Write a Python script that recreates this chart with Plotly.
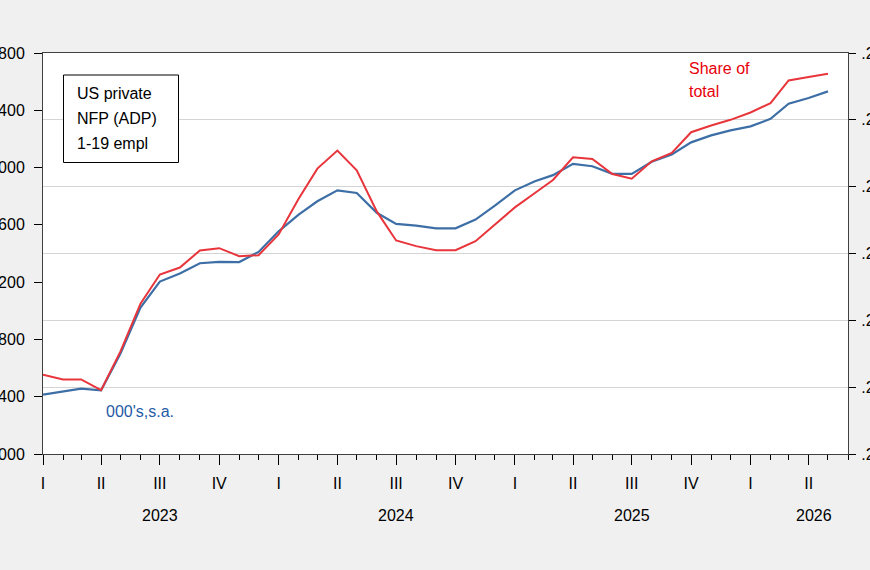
import pandas as pd
import plotly.graph_objects as go

# ---- data ----
months = pd.date_range("2023-01-01", "2026-05-01", freq="MS")
adp_1_19 = [26415, 26436, 26457, 26445, 26701, 27023, 27204, 27260, 27332, 27342,
            27340, 27411, 27555, 27672, 27765, 27841, 27823, 27684, 27607, 27595,
            27576, 27576, 27637, 27735, 27841, 27904, 27947, 28026, 28009, 27956,
            27956, 28040, 28091, 28176, 28225, 28260, 28288, 28340, 28446, 28486,
            28532]
share_total = [0.20237, 0.20223, 0.20223, 0.20191, 0.20307, 0.20450, 0.20537, 0.20558,
               0.20609, 0.20616, 0.20592, 0.20595, 0.20657, 0.20764, 0.20854, 0.20908,
               0.20849, 0.20726, 0.20639, 0.20622, 0.20610, 0.20610, 0.20637, 0.20686,
               0.20738, 0.20781, 0.20820, 0.20888, 0.20883, 0.20838, 0.20824, 0.20876,
               0.20901, 0.20963, 0.20983, 0.21000, 0.21022, 0.21050, 0.21118, 0.21128,
               0.21138]
quarter_ticks = pd.date_range("2023-01-01", "2026-04-01", freq="QS")
quarter_labels = ["I", "II", "III", "IV"] * 3 + ["I", "II"]
year_labels = ["2023", "2024", "2025", "2026"]
year_label_pos = ["2023-07-01", "2024-07-01", "2025-07-01", "2026-04-10"]
left_ticks = list(range(26000, 28801, 400))
right_ticks = [0.200, 0.202, 0.204, 0.206, 0.208, 0.210, 0.212]

FONT = "Arial, 'Liberation Sans', sans-serif"
BLUE = "#3d6fa6"
RED = "#e8353b"

W, H = 870, 570
L, R, T, B = 43, 22, 53, 116
pw, ph = W - L - R, H - T - B


def px(x):
    return (x - L) / pw


def py(y):
    return (H - B - y) / ph


fig = go.Figure()
fig.add_trace(go.Scatter(x=months, y=adp_1_19, mode="lines",
                         line=dict(color=BLUE, width=2.2), yaxis="y", showlegend=False))
fig.add_trace(go.Scatter(x=months, y=share_total, mode="lines",
                         line=dict(color=RED, width=2.0), yaxis="y2", showlegend=False))

fig.update_layout(
    width=W, height=H,
    margin=dict(l=L, r=R, t=T, b=B, autoexpand=False),
    paper_bgcolor="#f0f0f0", plot_bgcolor="white",
    font=dict(family=FONT, size=16, color="black"),
    xaxis=dict(
        range=["2023-01-01", "2026-06-01"],
        tickmode="array", tickvals=quarter_ticks, ticktext=quarter_labels,
        ticks="outside", ticklen=10, tickcolor="black", tickwidth=1,
        showline=True, linecolor="#404040", linewidth=1, mirror=True,
        showgrid=False, zeroline=False,
        minor=dict(ticks="outside", ticklen=5, tickcolor="black",
                   dtick="M1", tick0="2023-01-01", showgrid=False),
        tickfont=dict(size=16), ticklabelstandoff=5, automargin=False,
    ),
    yaxis=dict(
        range=[26000, 28800], tickmode="array", tickvals=left_ticks,
        ticktext=[str(v) for v in left_ticks],
        ticks="outside", ticklen=8, tickcolor="black",
        showline=True, linecolor="#404040", linewidth=1,
        showgrid=False, zeroline=False, automargin=False,
        tickfont=dict(size=16), ticklabelstandoff=6,
    ),
    yaxis2=dict(
        range=[0.200, 0.212], overlaying="y", side="right",
        tickmode="array", tickvals=right_ticks,
        ticktext=[f"{v:.3f}".lstrip("0") for v in right_ticks],
        ticks="outside", ticklen=7, tickcolor="black",
        showline=True, linecolor="#404040", linewidth=1,
        showgrid=True, gridcolor="#d4d4d4", gridwidth=1,
        zeroline=False, automargin=False,
        tickfont=dict(size=16), ticklabelstandoff=2,
    ),
)

# year labels
for lab, pos in zip(year_labels, year_label_pos):
    fig.add_annotation(x=pos, xref="x", y=py(515), yref="paper", text=lab,
                       showarrow=False, font=dict(size=16, color="black"),
                       xanchor="center", yanchor="middle")

# legend-like box
fig.add_shape(type="rect", xref="paper", yref="paper",
              x0=px(63.5), x1=px(178.5), y0=py(75), y1=py(162.5),
              line=dict(color="black", width=1), fillcolor="white", layer="above")
for i, line in enumerate(["US private", "NFP (ADP)", "1-19 empl"]):
    fig.add_annotation(x=px(75), y=py(94 + 24.5 * i), xref="paper", yref="paper",
                       text=line, showarrow=False, xanchor="left", yanchor="middle",
                       font=dict(size=16, color="black"))

for i, line in enumerate(["Share of", "total"]):
    fig.add_annotation(x=px(687), y=py(68 + 23.5 * i), xref="paper", yref="paper",
                       text=line, showarrow=False, xanchor="left", yanchor="middle",
                       font=dict(size=16, color="#e8000b"))

fig.add_annotation(x=px(104), y=py(411), xref="paper", yref="paper",
                   text="000's,s.a.", showarrow=False, xanchor="left", yanchor="middle",
                   font=dict(size=16, color="#1f5aa6"))

fig.write_html("out.html")
